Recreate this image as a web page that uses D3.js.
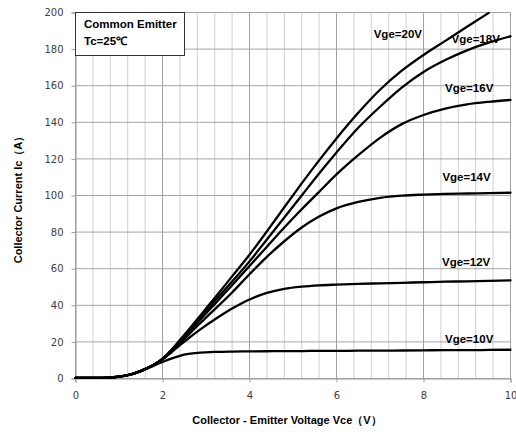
<!DOCTYPE html>
<html>
<head>
<meta charset="utf-8">
<script src="https://cdn.jsdelivr.net/npm/d3@7"></script>
<style>
  html, body { margin: 0; padding: 0; background: #fff; }
  svg text { font-family: "Liberation Sans", Arial, sans-serif; }
</style>
</head>
<body>
<svg id="chart" width="516" height="432"></svg>
<script>
// Output characteristics: collector current vs collector-emitter voltage
const vce = [0, 0.4, 0.8, 1.0, 1.2, 1.4, 1.6, 1.8, 2.0, 2.2, 2.4, 2.6, 2.8, 3.0, 3.2, 3.6, 4.0, 4.4, 4.8, 5.2, 5.6, 6.0, 6.5, 7.0, 7.5, 8.0, 8.5, 9.0, 9.5, 10];

const ic10 = [0.3, 0.3, 0.5, 1.0, 1.8, 3.1, 4.9, 7.0, 9.0, 10.9, 12.4, 13.4, 14.0, 14.3, 14.5, 14.7, 14.8, 14.9, 15.0, 15.0, 15.1, 15.1, 15.2, 15.2, 15.3, 15.4, 15.5, 15.5, 15.6, 15.7];
const ic12 = [0.3, 0.3, 0.5, 1.0, 1.8, 3.2, 5.1, 7.4, 10.3, 14.2, 18.2, 22.0, 25.6, 29.0, 32.2, 38.2, 43.2, 46.8, 49.0, 50.2, 50.9, 51.3, 51.7, 52.0, 52.3, 52.6, 52.9, 53.1, 53.4, 53.6];
const ic14 = [0.3, 0.3, 0.5, 1.0, 1.8, 3.2, 5.1, 7.5, 10.5, 14.7, 19.3, 24.0, 28.7, 33.3, 37.8, 47.0, 57.0, 66.5, 75.0, 82.5, 88.5, 93.0, 96.5, 98.7, 99.9, 100.5, 100.9, 101.1, 101.3, 101.5];
const ic16 = [0.3, 0.3, 0.5, 1.0, 1.8, 3.2, 5.1, 7.5, 10.6, 15.0, 20.0, 25.2, 30.4, 35.6, 40.6, 51.0, 61.5, 72.0, 82.5, 92.5, 102.0, 111.5, 122.0, 131.5, 139.0, 144.0, 147.5, 149.8, 151.2, 152.2];
const ic18 = [0.3, 0.3, 0.5, 1.0, 1.8, 3.2, 5.1, 7.5, 10.7, 15.3, 20.6, 26.0, 31.5, 37.0, 42.3, 53.0, 64.0, 76.0, 88.0, 100.0, 112.0, 123.5, 137.0, 148.5, 159.0, 167.5, 174.0, 179.3, 183.5, 187.0];
const ic20 = [0.3, 0.3, 0.5, 1.0, 1.8, 3.2, 5.1, 7.5, 10.8, 15.5, 21.0, 26.6, 32.4, 38.2, 44.0, 55.8, 67.6, 80.4, 93.6, 106.6, 119.2, 131.2, 145.2, 157.8, 168.2, 176.8, 184.5, 192.2, 199.8, null];

const seriesNames = ["Vge=10V", "Vge=12V", "Vge=14V", "Vge=16V", "Vge=18V", "Vge=20V"];
const seriesValues = [ic10, ic12, ic14, ic16, ic18, ic20];
// label anchor: voltage and current where each name sits
const labelVce = [9.05, 8.98, 8.99, 9.05, 9.2, 7.41];
const labelIc = [21.5, 63.6, 110, 159, 185.8, 188];

const xTicks = [0, 2, 4, 6, 8, 10];
const yTicks = [0, 20, 40, 60, 80, 100, 120, 140, 160, 180, 200];

const svg = d3.select("#chart");
const m = { left: 75.5, right: 510.5, top: 12.5, bottom: 378.5 };

const x = d3.scaleLinear().domain([0, 10]).range([m.left, m.right]);
const y = d3.scaleLinear().domain([0, 200]).range([m.bottom, m.top]);

// minor vertical grid every 0.4 V
const minor = d3.range(0, 10.001, 0.4).map(v => +v.toFixed(1));
svg.append("g").selectAll("line").data(minor).join("line")
  .attr("x1", d => x(d)).attr("x2", d => x(d))
  .attr("y1", m.top).attr("y2", m.bottom)
  .attr("stroke", "#cfcfcf").attr("stroke-width", 1);

// horizontal grid
svg.append("g").selectAll("line").data(yTicks).join("line")
  .attr("x1", m.left).attr("x2", m.right)
  .attr("y1", d => y(d)).attr("y2", d => y(d))
  .attr("stroke", "#a6a6a6").attr("stroke-width", 1);

// major vertical grid
svg.append("g").selectAll("line").data(xTicks).join("line")
  .attr("x1", d => x(d)).attr("x2", d => x(d))
  .attr("y1", m.top).attr("y2", m.bottom)
  .attr("stroke", "#a0a0a0").attr("stroke-width", 1);

// axes
const xAxis = d3.axisBottom(x).tickValues(xTicks).tickSize(4).tickPadding(9);
const gx = svg.append("g").attr("transform", `translate(0,${m.bottom})`).call(xAxis);
const yAxis = d3.axisLeft(y).tickValues(yTicks).tickSize(4).tickPadding(8);
const gy = svg.append("g").attr("transform", `translate(${m.left},0)`).call(yAxis);
[gx, gy].forEach(g => {
  g.select(".domain").attr("stroke", "#9a9a9a");
  g.selectAll(".tick line").attr("stroke", "#9a9a9a");
  g.selectAll(".tick text").attr("fill", "#404040")
    .style("font-family", "'DejaVu Sans', Verdana, sans-serif").style("font-size", "10px");
});

// curves
const line = d3.line()
  .defined(d => d[1] != null)
  .x(d => x(d[0])).y(d => y(d[1]))
  .curve(d3.curveMonotoneX);

seriesValues.forEach(vals => {
  svg.append("path")
    .datum(vce.map((v, i) => [v, vals[i]]))
    .attr("fill", "none").attr("stroke", "#000").attr("stroke-width", 2.3)
    .attr("stroke-linejoin", "round").attr("stroke-linecap", "round")
    .attr("d", line);
});

// curve labels
svg.append("g").selectAll("text").data(seriesNames).join("text")
  .attr("x", (d, i) => x(labelVce[i]))
  .attr("y", (d, i) => y(labelIc[i]))
  .attr("text-anchor", "middle").attr("dy", "0.35em")
  .style("font-size", "11.5px").style("font-weight", "bold").attr("fill", "#000")
  .text(d => d);

// condition box
const box = svg.append("g");
box.append("rect").attr("x", 75.5).attr("y", 12.5).attr("width", 109).attr("height", 43)
  .attr("fill", "#fff").attr("stroke", "#333").attr("stroke-width", 1);
box.append("text").attr("x", 84).attr("y", 28).style("font-size", "11.5px").style("font-weight", "bold")
  .text("Common Emitter");
box.append("text").attr("x", 84).attr("y", 45).style("font-size", "11.5px").style("font-weight", "bold")
  .text("Tc=25℃");

// axis titles
svg.append("text").attr("x", 287).attr("y", 424).attr("text-anchor", "middle")
  .style("font-size", "11px").style("font-weight", "bold")
  .text("Collector - Emitter Voltage Vce（V）");
svg.append("text").attr("transform", "translate(22,197) rotate(-90)").attr("text-anchor", "middle")
  .style("font-size", "11px").style("font-weight", "bold")
  .text("Collector Current Ic（A）");
</script>
</body>
</html>
